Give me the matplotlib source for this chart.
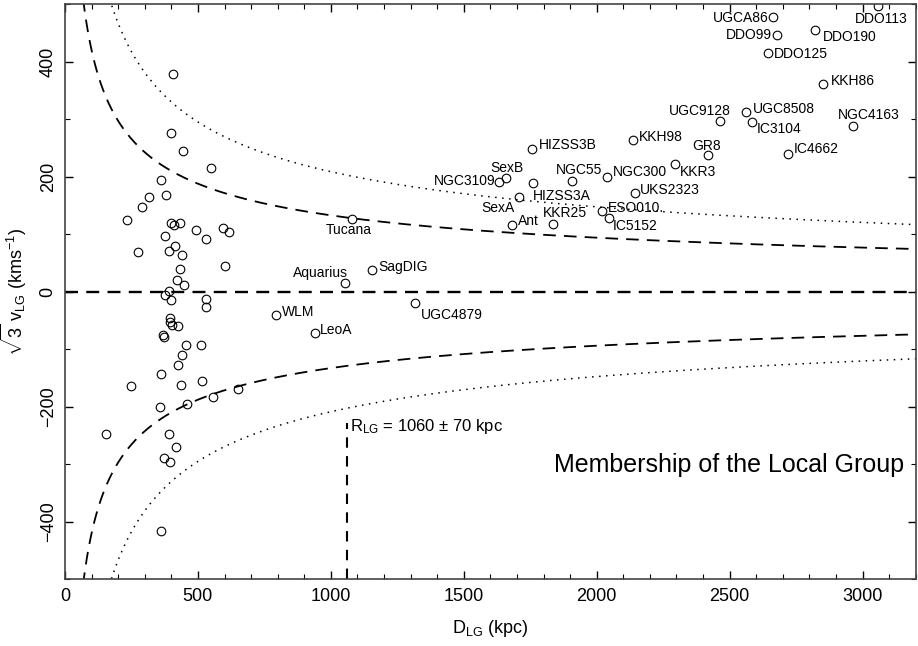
import numpy as np
import matplotlib
matplotlib.use("Agg")
import matplotlib.pyplot as plt

plt.rcParams['font.family'] = ['Liberation Sans', 'DejaVu Sans']
plt.rcParams['mathtext.fontset'] = 'custom'
plt.rcParams['mathtext.rm'] = 'Liberation Sans'
plt.rcParams['mathtext.it'] = 'Liberation Sans'

# Unlabelled dwarfs close to the Milky Way / M31 (D_LG in kpc, sqrt(3) v_LG in km/s)
core_d = [407, 400, 444, 550, 361, 379, 315, 291, 233, 276, 400, 411, 431, 375,
          492, 529, 595, 618, 412, 390, 441, 432, 603, 421, 449, 377, 390, 400,
          530, 530, 395, 395, 402, 424, 367, 371, 455, 512, 440, 424, 360, 248,
          435, 516, 649, 556, 356, 459, 154, 390, 416, 373, 395, 360]
core_v = [379, 276, 245, 216, 194, 168, 165, 147, 124, 69, 120, 116, 120, 97,
          108, 91, 110, 104, 80, 70, 63, 39, 45, 21, 11, -5, 1, -14,
          -12, -27, -46, -52, -58, -60, -75, -79, -92, -93, -110, -128, -143, -164,
          -162, -155, -169, -183, -200, -196, -248, -247, -270, -290, -297, -416]

# Named galaxies
names = ["WLM", "LeoA", "Aquarius", "SagDIG", "UGC4879", "Tucana",
         "HIZSS3B", "SexB", "NGC3109", "HIZSS3A", "SexA", "Ant", "KKR25",
         "NGC55", "NGC300", "ESO010.", "IC5152", "KKH98", "UKS2323", "KKR3",
         "GR8", "UGC9128", "UGC8508", "IC3104", "IC4662", "NGC4163", "KKH86",
         "DDO125", "DDO99", "UGCA86", "DDO190", "DDO113"]
named_d = [793, 940, 1053, 1155, 1318, 1078,
           1758, 1660, 1632, 1759, 1708, 1683, 1837,
           1907, 2039, 2020, 2045, 2138, 2144, 2293,
           2420, 2464, 2563, 2586, 2721, 2963, 2853,
           2643, 2680, 2662, 2823, 3058]
named_v = [-41, -71, 16, 38, -20, 126,
           248, 197, 191, 189, 164, 116, 117,
           193, 200, 140, 128, 263, 172, 222,
           237, 297, 313, 295, 240, 288, 362,
           416, 446, 477, 456, 497]

# Zero-velocity / escape curves: v = K / sqrt(D)
k_inner = 4200.0
k_outer = 6600.0
r_lg = 1060
r_lg_err = 70

# Label placement (offset in pixels from the point, horizontal alignment)
label_pos = {
    "WLM": (6, 3, "left"), "LeoA": (5, 3, "left"), "Aquarius": (3, 10, "right"),
    "SagDIG": (6, 3, "left"), "UGC4879": (5, -12, "left"), "Tucana": (-3, -11, "center"),
    "HIZSS3B": (7, 4, "left"), "SexB": (1, 10, "center"), "NGC3109": (-3, 1, "right"),
    "HIZSS3A": (0, -13, "left"), "SexA": (-4, -11, "right"), "Ant": (6, 4, "left"),
    "KKR25": (-10, 11, "left"), "NGC55": (-16, 11, "left"), "NGC300": (6, 5, "left"),
    "ESO010.": (6, 3, "left"), "IC5152": (4, -8, "left"), "KKH98": (6, 3, "left"),
    "UKS2323": (5, 3, "left"), "KKR3": (5, -8, "left"), "GR8": (-2, 9, "center"),
    "UGC9128": (11, 10, "right"), "UGC8508": (7, 3, "left"), "IC3104": (4, -7, "left"),
    "IC4662": (5, 5, "left"), "NGC4163": (16, 11, "center"), "KKH86": (7, 3, "left"),
    "DDO125": (6, -1, "left"), "DDO99": (-6, 0, "right"), "UGCA86": (-4, -1, "right"),
    "DDO190": (7, -7, "left"), "DDO113": (3, -13, "center"),
}

fig = plt.figure(figsize=(9.18, 6.46), dpi=100)
ax = fig.add_axes([65 / 918, (646 - 579.2) / 646, (915.7 - 65) / 918, 575 / 646])

dd = np.linspace(20, 3200, 2000)
dash_kw = dict(color="black", lw=1.3, dashes=(7, 4.5))
dot_kw = dict(color="black", lw=1.1, linestyle=(0, (1, 3.6)))
ax.plot(dd, k_inner / np.sqrt(dd), **dash_kw)
ax.plot(dd, -k_inner / np.sqrt(dd), **dash_kw)
ax.plot(dd, k_outer / np.sqrt(dd), **dot_kw)
ax.plot(dd, -k_outer / np.sqrt(dd), **dot_kw)

ax.axhline(0, color="black", lw=1.7, dashes=(5.5, 3.5))
ax.plot([r_lg, r_lg], [-500, -228], color="black", lw=1.5, dashes=(5, 4))
ax.annotate(r"R$_{\rm LG}$ = %d $\pm$ %d kpc" % (r_lg, r_lg_err), xy=(r_lg, -235),
            xytext=(3, 0), textcoords="offset pixels", ha="left", va="center",
            fontsize=12)

mk = dict(marker="o", ms=6.2, mfc="none", mec="black", mew=0.8, ls="none")
ax.plot(core_d, core_v, **mk)
ax.plot(named_d, named_v, **mk)

for n, d, v in zip(names, named_d, named_v):
    dx, dy, ha = label_pos[n]
    ax.annotate(n, xy=(d, v), xytext=(dx, dy), textcoords="offset pixels",
                ha=ha, va="center", fontsize=10)

ax.text(3155, -301, "Membership of the Local Group", ha="right", va="center",
        fontsize=18, color="black")

ax.set_xlim(0, 3200)
ax.set_ylim(-500, 500)
ax.set_xticks(np.arange(0, 3001, 500))
ax.set_xticks(np.arange(0, 3201, 100), minor=True)
ax.set_yticks(np.arange(-400, 401, 200))
ax.set_yticks(np.arange(-500, 501, 100), minor=True)
ax.tick_params(which="both", direction="in", top=True, right=True, color="black")
ax.tick_params(which="major", length=5.8, width=1.0, labelsize=13, pad=6)
ax.tick_params(which="minor", length=3.4, width=0.8)
for lab in ax.get_yticklabels():
    lab.set_rotation(90)
    lab.set_va("center")
for s in ax.spines.values():
    s.set_color("#444444")
    s.set_linewidth(1.2)

ax.set_xlabel(r"D$_{\rm LG}$ (kpc)", fontsize=13, labelpad=10)
ax.set_ylabel(r"$\sqrt{3}$ v$_{\rm LG}$ (kms$^{-1}$)", fontsize=13, labelpad=8)

fig.savefig("out.png", dpi=100)
